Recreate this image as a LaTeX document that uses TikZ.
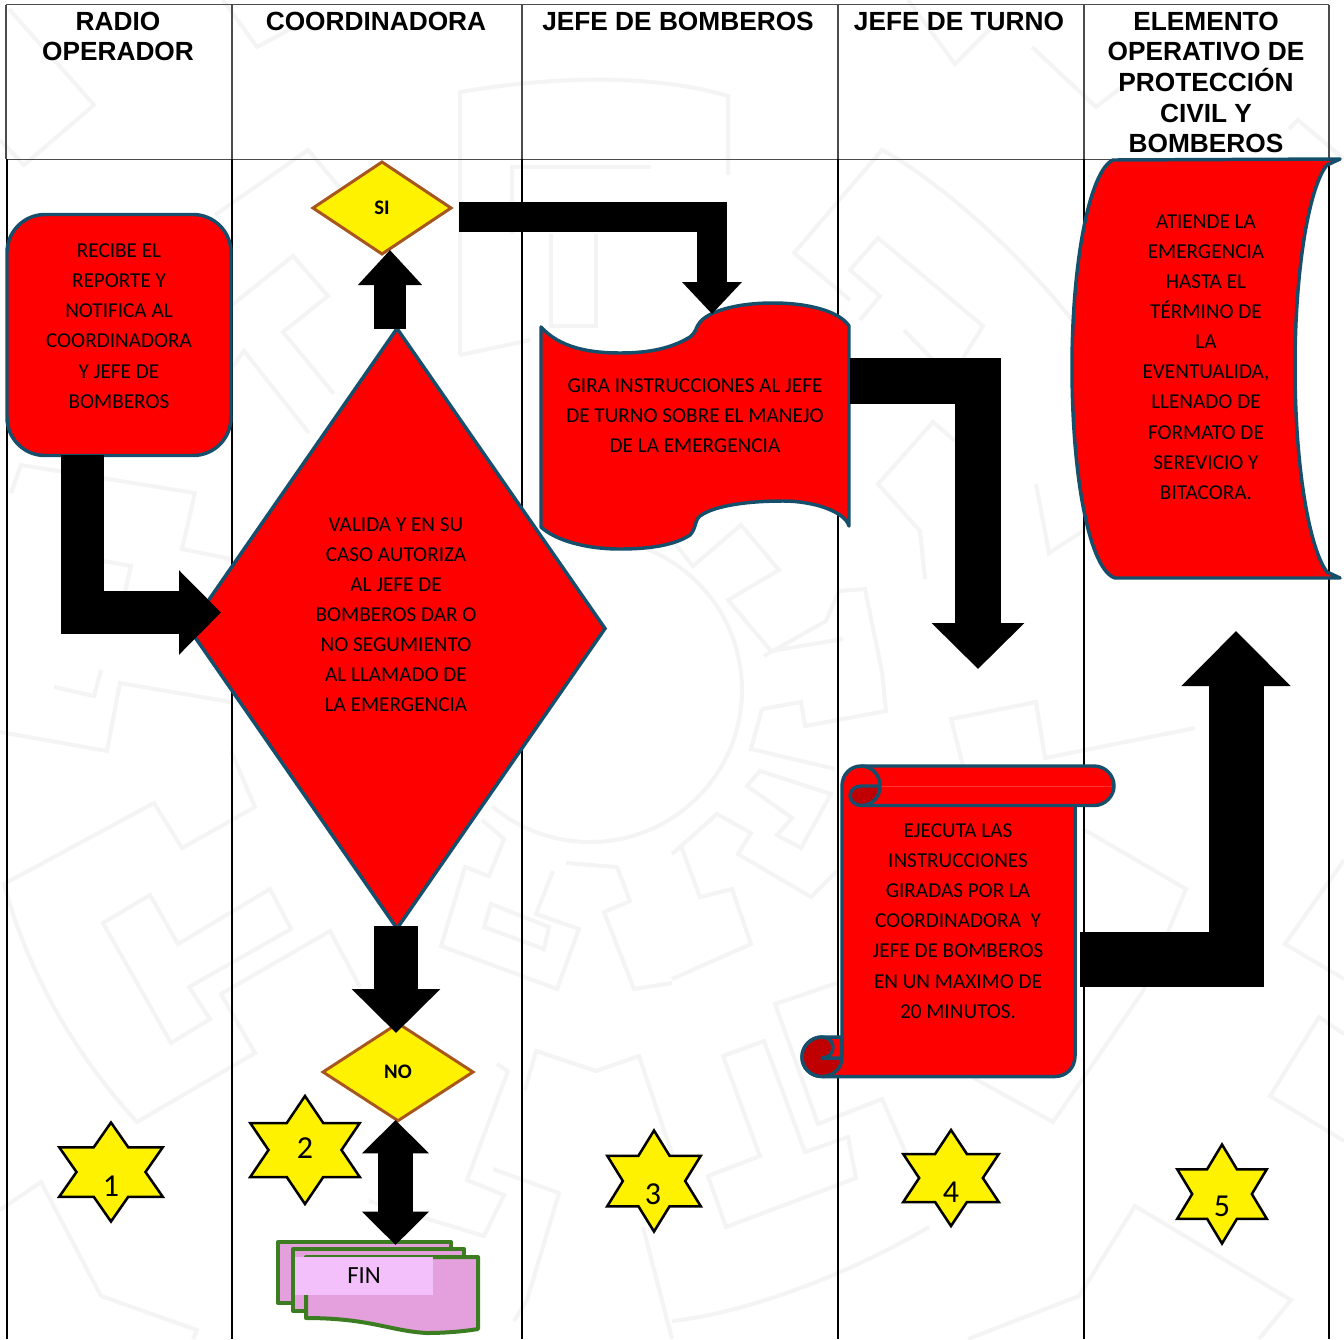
\documentclass[tikz,border=0pt]{standalone}
\usepackage{fontspec}
\setmainfont{Carlito}
\newfontfamily\hdrfont{Liberation Sans}
\usetikzlibrary{arrows.meta,shapes.geometric,calc}
\definecolor{tealb}{HTML}{164F6B}
\definecolor{brownb}{HTML}{A9561E}
\definecolor{wmgray}{HTML}{F4F4F4}
\definecolor{curlred}{HTML}{C00000}
\definecolor{finpink}{HTML}{E4A0DC}
\definecolor{finlight}{HTML}{F3C0FB}
\definecolor{fingreen}{HTML}{3C7D22}
\tikzset{
  wm/.style={draw=wmgray,line width=3pt,line join=miter},
  lanethin/.style={draw=black!70,line width=0.8pt},
  lanethick/.style={draw=black,line width=1.4pt},
  hdr/.style={font=\hdrfont\bfseries\fontsize{19.7}{23}\selectfont,align=center,inner sep=0pt},
  body/.style={font=\fontsize{15.9}{22.6}\selectfont,align=center,inner sep=0pt,text=black},
  redshape/.style={draw=tealb,fill=red,line width=2.6pt,line join=round},
  procbox/.style={redshape,rectangle,rounded corners=28.5pt,minimum width=168pt,minimum height=180.75pt,inner sep=0pt,outer sep=0pt,font=\fontsize{15.9}{22.6}\selectfont,align=center},
  maindia/.style={diamond,draw=tealb,fill=red,line width=2.6pt,minimum width=312pt,minimum height=450pt,inner sep=0pt,outer sep=0pt,aspect=0.69,font=\fontsize{15.9}{22.6}\selectfont,align=center},
  ydia/.style={diamond,draw=brownb,fill=yellow,line width=2.2pt,inner sep=0pt,outer sep=0pt,font=\bfseries\fontsize{15.5}{17}\selectfont},
  starshape/.style={draw=black,fill=yellow,line width=1.9pt,line join=miter},
  starnum/.style={font=\fontsize{24}{26}\selectfont,inner sep=0pt},
  finsheet/.style={draw=fingreen,fill=finpink,line width=3pt,line join=round},
  finbox/.style={fill=finlight,minimum width=103pt,minimum height=28.5pt,inner sep=0pt,outer sep=0pt,font=\fontsize{18.5}{20}\selectfont},
  blockarrow/.style n args={3}{draw=black,line width=#1,-{Triangle[length=#2,width=#3]},line join=miter}
}
\newcommand{\sixstar}[8]{%
  \draw[starshape] (#2,{#3-#5/2}) -- ({#2+#4/6},{#3-#5/4}) -- ({#2+#4/2},{#3-#5/4}) -- ({#2+#4/3},#3)
    -- ({#2+#4/2},{#3+#5/4}) -- ({#2+#4/6},{#3+#5/4}) -- (#2,{#3+#5/2}) -- ({#2-#4/6},{#3+#5/4})
    -- ({#2-#4/2},{#3+#5/4}) -- ({#2-#4/3},#3) -- ({#2-#4/2},{#3-#5/4}) -- ({#2-#4/6},{#3-#5/4}) -- cycle;
  \node[starnum] (#1) at (#7,#8) {#6};
}
\begin{document}
\begin{tikzpicture}[x=0.75pt,y=-0.75pt]
\useasboundingbox (0,0) rectangle (1344,1339);
\fill[white] (0,0) rectangle (1344,1339);
% watermark
\draw[wm] (9,9)--(94,105)--(24,165)--(0,140);
\draw[wm] (223,0)--(257,47)--(296,26);
\draw[wm] (215,215)--(308,150)--(351,201);
\draw[wm] (227,309)--(293,256)--(328,296)--(283,332)--(334,394);
\draw[wm] (225,377)--(244,351)--(309,433);
\draw[wm] (460,355)--(460,92) .. controls (530,80) and (640,70) .. (728,96)--(728,175);
\draw[wm] (512,234)--(512,167)--(651,167);
\draw[wm] (551,234)--(551,326)--(596,326)--(596,234);
\draw[wm] (460,355)--(530,340);
\draw[wm] (11,493)--(21,465)--(195,493)--(182,549)--(231,559);
\draw[wm] (103,561)--(131,566)--(120,613);
\draw[wm] (54,687)--(94,696)--(101,670);
\draw[wm] (0,732)--(107,751)--(120,683)--(231,702);
\draw[wm] (231,751)--(255,807)--(182,848)--(154,803)--(4,884) .. controls (30,980) and (80,1060) .. (137,1122)--(255,1053)--(221,994)--(330,931)--(360,987);
\draw[wm] (103,923)--(150,895)--(178,944)--(270,889)--(291,929)--(189,987)--(210,1019)--(171,1043)--cycle;
\draw[wm] (0,1210)--(41,1182)--(101,1296)--(197,1330)--(193,1339);
\draw[wm] ([shift={(590,690)}]-95:152) arc[start angle=-95,end angle=130,radius=152];
\draw[wm] (482,820)--(504,839)--(489,876)--(465,867)--(441,946)--(557,989)--(579,929)--(536,914)--(553,871);
\draw[wm] (491,904)--(549,927)--(544,949)--(484,927)--cycle;
\draw[wm] (566,863)--(617,867)--(630,901)--(604,912)--(634,989)--(672,983);
\draw[wm] (525,1090)--(536,1051)--(596,1071)--(639,1056)--(672,1154);
\draw[wm] (497,1064)--(508,1071)--(467,1180)--(504,1195)--(484,1236)--(369,1201);
\draw[wm] (493,1169)--(559,1193)--(527,1300)--(514,1321);
\draw[wm] (643,1227)--(672,1339);
\draw[wm] (762,709)--(801,702)--(805,726)--(886,711)--(882,670);
\draw[wm] (762,709)--(751,749)--(835,769);
\draw[wm] (747,786)--(760,771)--(831,794)--(801,848)--(777,835)--(792,818)--cycle;
\draw[wm] (672,854)--(717,814)--(751,833)--(738,854)--(811,897)--(837,871);
\draw[wm] (681,846)--(700,897)--(732,889)--(751,944)--(672,979);
\draw[wm] (963,766)--(951,719)--(1036,702)--(1045,758)--(1195,728);
\draw[wm] (1083,829)--(1186,889)--(1143,991)--(1053,1122)--(972,1077);
\draw[wm] (837,983)--(775,1004)--(818,1124)--(882,1099)--(912,1167);
\draw[wm] (723,1056)--(764,1041)--(805,1152)--(848,1137)--(856,1178)--(726,1227)--(708,1176)--(760,1156)--cycle;
\draw[wm] (672,1321) .. controls (730,1315) and (830,1285) .. (929,1227);
\draw[wm] (968,1339)--(1079,1296)--(1135,1206)--(1291,1300)--(1259,1339);
\draw[wm] (1344,1034)--(1319,1017)--(1270,1096)--(1344,1141);
\draw[wm] (1344,860)--(1285,944)--(1344,979);
\draw[wm] (908,0)--(955,64)--(1006,13);
\draw[wm] (1032,47)--(1096,107)--(1135,77);
\draw[wm] (1289,129)--(1298,120)--(1344,159);
\draw[wm] (850,300)--(794,253)--(882,150) .. controls (930,175) and (1020,250) .. (1083,334);
\draw[wm] (860,320)--(880,296)--(850,270)--(878,238)--(983,326)--(963,358);
\draw[wm] (904,330)--(933,360);
\draw[wm] (955,441)--(933,422)--(878,484)--(920,531)--(925,579);
\draw[wm] (1036,484)--(1049,553)--(1083,531);
\draw[wm] (672,540)--(693,566)--(741,525)--(779,570)--(728,600)--(771,651)--(843,639);
\draw[wm] (764,656)--(826,621)--(839,591)--(865,589)--(882,672);
% lanes
\draw[lanethin] (6,4.5)--(1329,4.5);
\draw[lanethin] (6,4.5)--(6,159);
\draw[lanethin] (232,4.5)--(232,159);
\draw[lanethin] (522,4.5)--(522,159);
\draw[lanethin] (838,4.5)--(838,159);
\draw[lanethin] (1084,4.5)--(1084,159);
\draw[lanethin] (1329,4.5)--(1329,159);
\draw[lanethin] (6,159.5)--(1329,159.5);
\draw[lanethick] (7,159)--(7,1339);
\draw[lanethick] (232,159)--(232,1339);
\draw[lanethick] (522,159)--(522,1339);
\draw[lanethick] (838,159)--(838,1339);
\draw[lanethick] (1084,159)--(1084,1339);
\draw[lanethick] (1329,159)--(1329,1339);
% headers
\node[hdr] (h1) at (118,36.5) {RADIO\\OPERADOR};
\node[hdr] (h2) at (376,21) {COORDINADORA};
\node[hdr] (h3) at (678,21) {JEFE DE BOMBEROS};
\node[hdr] (h4) at (959,21) {JEFE DE TURNO};
\node[hdr] (h5) at (1206,82.5) {ELEMENTO\\OPERATIVO DE\\PROTECCIÓN\\CIVIL Y\\BOMBEROS};
% process shapes
\node[procbox] (recibe) at (119,335) {RECIBE EL\\REPORTE Y\\NOTIFICA AL\\COORDINADORA\\Y JEFE DE\\BOMBEROS\\[-9.1pt]\mbox{}};
\node[maindia] (valida) at (397,628.5) {\hspace*{-1.5pt}\begin{tabular}{@{}c@{}}VALIDA Y EN SU\\[0pt]CASO AUTORIZA\\AL JEFE DE\\BOMBEROS DAR O\\NO SEGUMIENTO\\AL LLAMADO DE\\LA EMERGENCIA\\[-3.1pt]\mbox{}\end{tabular}};
\node[ydia,minimum width=103.5pt,minimum height=69pt] (si) at (382,208) {\raisebox{-0.7pt}{SI}};
\node[ydia,minimum width=112.5pt,minimum height=73pt] (no) at (398,1072) {NO};
% wave
\draw[redshape] (541,327) .. controls (560,348) and (590,353) .. (620,353) .. controls (650,353) and (672,348) .. (690,337) .. controls (696,332) and (696,328) .. (698,325) .. controls (705,312) and (735,303) .. (773,303) .. controls (810,303) and (840,312) .. (849,326) -- (849,526) .. controls (845,512) and (815,501) .. (783,501) .. controls (750,501) and (715,505) .. (700,516) .. controls (694,521) and (697,527) .. (690,535) .. controls (675,545) and (650,549) .. (620,549) .. controls (585,549) and (555,540) .. (541,527) -- cycle;
\node[body] (gira) at (695,416) {GIRA INSTRUCCIONES AL JEFE\\DE TURNO SOBRE EL MANEJO\\DE LA EMERGENCIA};
% curved sheet
\draw[redshape] (1113,160) .. controls (1090,170) and (1072,260) .. (1072,367) .. controls (1072,480) and (1090,570) .. (1115,578) -- (1340,578) -- (1327,572) .. controls (1310,550) and (1295,470) .. (1295,367) .. controls (1295,265) and (1310,185) .. (1327,165) -- (1340,159) -- cycle;
\node[body] (atiende) at (1206,357) {ATIENDE LA\\EMERGENCIA\\HASTA EL\\TÉRMINO DE\\LA\\EVENTUALIDA,\\LLENADO DE\\FORMATO DE\\SEREVICIO Y\\BITACORA.};
% scroll
\draw[redshape] (1075,805) -- (1075,1056) .. controls (1075,1068) and (1066,1076.5) .. (1055,1076.5) -- (822,1076.5) .. controls (811,1076.5) and (802,1068) .. (802,1057) .. controls (802,1046) and (811,1037) .. (822,1037) -- (842,1037) -- (842,786) .. controls (842,775) and (850,766) .. (861,766) -- (1094,766) .. controls (1105,766) and (1114,775) .. (1114,786) .. controls (1114,796) and (1105,805.5) .. (1094,805.5) -- (861,805.5);
\draw[draw=red!80!white,line width=0.3pt] (880,786) -- (1112,786);
\draw[redshape,fill=curlred] (880,786) -- (861,786) .. controls (855,786) and (850,790) .. (850,795.5) .. controls (850,801) and (855,805.5) .. (861,805.5) .. controls (872,805.5) and (880,797) .. (880,786) -- cycle;
\draw[redshape,fill=none] (861,766) .. controls (872,766) and (880,775) .. (880,786);
\draw[redshape,fill=curlred] (822,1037) .. controls (811,1037) and (802,1046) .. (802,1057) .. controls (802,1068) and (811,1076.5) .. (822,1076.5) .. controls (833,1076.5) and (842,1068) .. (842,1058) -- (822,1058) .. controls (829,1058) and (833,1053) .. (833,1047) .. controls (833,1042) and (829,1037) .. (822,1037) -- cycle;
\draw[redshape,fill=none] (842,1037) -- (842,1058);
\node[body] (ejecuta) at (958,921) {EJECUTA LAS\\INSTRUCCIONES\\GIRADAS POR LA\\COORDINADORA\ \ Y\\JEFE DE BOMBEROS\\EN UN MAXIMO DE\\20 MINUTOS.};
% FIN stack
\draw[finsheet] (278,1242) rectangle (451,1303);
\draw[finsheet] (293,1249) rectangle (464,1311);
\draw[finsheet] (306,1257) -- (478,1257) -- (478,1329) .. controls (460,1332) and (440,1333) .. (427,1333) .. controls (390,1331) and (370,1318) .. (306,1318) -- cycle;
\node[finbox] (fin) at (364,1275.5) {FIN};
% stars
\sixstar{s1}{111}{1172}{103.5}{99}{1}{111}{1186}
\sixstar{s2}{305}{1150}{109.5}{108}{2}{305}{1148}
\sixstar{s3}{654}{1181}{93.5}{101}{3}{653}{1194}
\sixstar{s4}{951}{1178}{95.5}{96}{4}{951}{1192}
\sixstar{s5}{1222}{1194}{89.5}{99}{5}{1222}{1206}
% connectors
\coordinate (a1s) at (82.5,455);
\coordinate (a1t) at (221,612.5);
\draw[blockarrow={32.25pt}{31.5pt}{61.5pt}] (a1s) |- (a1t);
\coordinate (a2s) at (390,329);
\coordinate (a2t) at (390,250);
\draw[blockarrow={24pt}{26.25pt}{46.5pt}] (a2s) -- (a2t);
\coordinate (a3s) at (459,217);
\coordinate (a3t) at (712,314);
\draw[blockarrow={22.5pt}{24pt}{43.5pt}] (a3s) -| (a3t);
\coordinate (a4s) at (850,381);
\coordinate (a4t) at (978,669);
\draw[blockarrow={34.5pt}{34.5pt}{67.5pt}] (a4s) -| (a4t);
\coordinate (a5s) at (1080,959.5);
\coordinate (a5t) at (1236,631);
\draw[blockarrow={41.25pt}{41.25pt}{79.5pt}] (a5s) -| (a5t);
\coordinate (a6s) at (396,926);
\coordinate (a6t) at (396,1033);
\draw[blockarrow={33pt}{33pt}{64.5pt}] (a6s) -- (a6t);
\coordinate (a7s) at (395.5,1120);
\coordinate (a7t) at (395.5,1245);
\draw[draw=black,line width=26.25pt,{Triangle[length=25pt,width=48.75pt]}-{Triangle[length=25pt,width=48.75pt]}] (a7s) -- (a7t);
\end{tikzpicture}
\end{document}
